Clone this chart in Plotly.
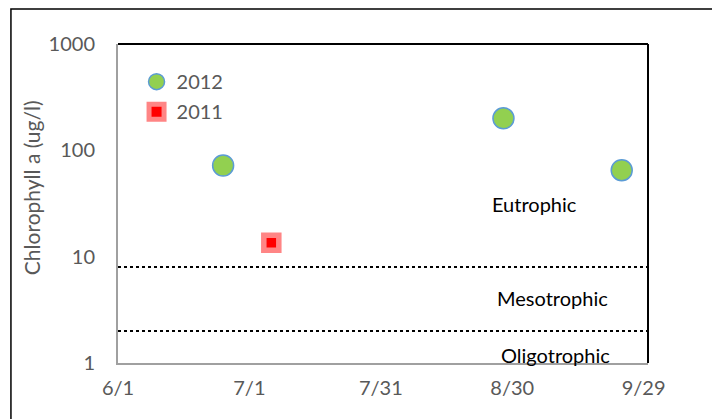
import math
import plotly.graph_objects as go

# Data
dates_2012 = ["2012-06-25", "2012-08-28", "2012-09-24"]
chl_2012 = [72, 200, 65]
dates_2011 = ["2012-07-06"]  # plotted on the same seasonal axis
chl_2011 = [13.5]

thresholds = [8, 2]
zone_labels = ["Eutrophic", "Mesotrophic", "Oligotrophic"]
zone_label_y = [31, 4.1, 1.2]
zone_label_x = ["2012-08-25", "2012-08-26", "2012-08-27"]

tick_vals = ["2012-06-01", "2012-07-01", "2012-07-31", "2012-08-30", "2012-09-29"]
tick_text = ["6/1", "7/1", "7/31", "8/30", "9/29"]
x_range = ["2012-06-01", "2012-09-30"]
y_title = "Chlorophyll a (ug/l)"

FONT = "Lato"
GREY = "#595959"

fig = go.Figure()

fig.add_trace(go.Scatter(
    x=dates_2012, y=chl_2012, mode="markers", name="2012", legendgroup="a",
    marker=dict(symbol="circle", size=21, color="#92d050",
                line=dict(color="#5b9bd5", width=1.5)),
))
fig.add_trace(go.Scatter(
    x=dates_2011, y=chl_2011, mode="markers", name="2011", legendgroup="b",
    marker=dict(symbol="square", size=15, color="#ff0000",
                line=dict(color="#ff8585", width=5.5)),
))

for t in thresholds:
    fig.add_shape(type="line", xref="paper", x0=0, x1=1, yref="y", y0=t, y1=t,
                  line=dict(color="black", width=2, dash="dot"))

for lab, xv, yv in zip(zone_labels, zone_label_x, zone_label_y):
    fig.add_annotation(x=xv, y=math.log10(yv), text=lab, showarrow=False,
                       xanchor="left", yanchor="middle",
                       font=dict(family=FONT, size=20, color="black"))

# y-axis title (placed like the original, slightly above centre)
fig.add_annotation(xref="paper", yref="paper", x=-0.163, y=0.55, text=y_title,
                   textangle=-90, showarrow=False, xanchor="center", yanchor="middle",
                   font=dict(family=FONT, size=21, color=GREY))

# plot-area border: gray left/bottom from axes, black top/right
fig.add_shape(type="line", xref="paper", yref="paper", x0=0, x1=1, y0=1, y1=1,
              line=dict(color="black", width=2))
fig.add_shape(type="line", xref="paper", yref="paper", x0=1, x1=1, y0=0, y1=1,
              line=dict(color="black", width=2))
# outer chart frame
fig.add_shape(type="rect", xref="paper", yref="paper",
              x0=-0.202, x1=1.123, y0=-0.3, y1=1.110,
              line=dict(color="black", width=1.5), layer="below")

fig.update_layout(
    width=720, height=419,
    margin=dict(l=110, r=80, t=36, b=64),
    paper_bgcolor="white", plot_bgcolor="white",
    font=dict(family=FONT, color=GREY, size=20),
    showlegend=True,
    legend=dict(x=0.035, y=0.943, xanchor="left", yanchor="top",
                bgcolor="rgba(0,0,0,0)", font=dict(size=20, color=GREY),
                itemwidth=30, tracegroupgap=1),
    xaxis=dict(type="date", range=x_range, tickvals=tick_vals, ticktext=tick_text,
               showgrid=False, zeroline=False, showline=True, linecolor="#a0a0a0",
               linewidth=2, ticks="", tickfont=dict(size=20, color=GREY), ticklabelstandoff=6),
    yaxis=dict(type="log", range=[0, 3], tickvals=[1, 10, 100, 1000],
               ticktext=["1", "10", "100", "1000"],
               showgrid=False, zeroline=False, showline=True, linecolor="#a0a0a0",
               linewidth=2, ticks="", tickfont=dict(size=20, color=GREY),
               ticklabelstandoff=17),
)

fig.write_html("out.html")
